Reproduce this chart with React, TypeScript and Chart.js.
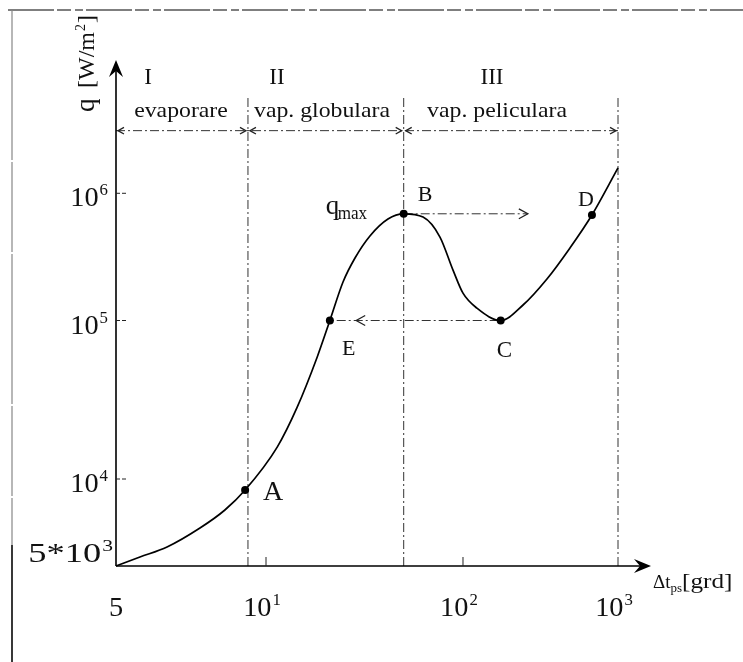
import React, { useEffect, useRef } from 'react';
import { Chart, registerables, LinearScale } from 'chart.js';

const SERIF = '"Liberation Serif", "DejaVu Serif", serif';

// ---------------- data ----------------
const curveDeltaT = [5, 5.585, 6.33, 7.37, 8.27, 9.08, 11.4, 14.4, 18.2, 21.1, 24.6, 28.3, 33.7, 41.6, 50, 62.7, 76.4, 89, 100, 123, 175, 244, 348, 490, 679, 1000];
const curveFlux = [5000, 5373, 5819, 6768, 7813, 9160, 15900, 28400, 58900, 100000, 200800, 310000, 462000, 628000, 690000, 650000, 453000, 249000, 164000, 125000, 100000, 132400, 212000, 372000, 675000, 1560000];
const keyNames = ['A', 'E', 'B', 'C', 'D'];
const keyDeltaT = [9.08, 21.1, 50, 175, 679];
const keyFlux = [9160, 100000, 690000, 100000, 675000];
const xTickValues = [5, 10, 100, 1000];
const xTickBase = ['5', '10', '10', '10'];
const xTickExp = ['', '1', '2', '3'];
const yTickValues = [5000, 10000, 100000, 1000000];
const yTickBase = ['5*10', '10', '10', '10'];
const yTickExp = ['3', '4', '5', '6'];
const regionBounds = [5, 9.2, 50, 1000];
const regionNumerals = ['I', 'II', 'III'];
const regionNames = ['evaporare', 'vap. globulara', 'vap. peliculara'];
const regionArrowFlux = 3.0e6;
const regionLineTopFlux = 5.5e6;
const bdFlux = 690000;
const bdDeltaT = [50, 262];
const ceFlux = 100000;
const ceDeltaT = [170, 21.1];
const ceArrowTip = 28.7;

// -------------- axis warp config (hand-drawn log axes) --------------
const X_BREAKS = [5, 10, 100, 1000, 1600];
const X_BREAK_AT = [0, 0.2809, 0.6498, 0.9401, 1];
const Y_BREAKS = [5000, 1e4, 1e5, 1e6, 1e7];
const Y_BREAK_AT = [0, 0.1726, 0.4871, 0.7395, 1];

class BreakLogScale extends LinearScale {
  static id = 'breaklog';
  static defaults = {};
  determineDataLimits() {
    const v = (this.options as any).breakValues;
    this.min = v[0];
    this.max = v[v.length - 1];
  }
  buildTicks() {
    return ((this.options as any).tickValues || []).map((value: number) => ({ value }));
  }
  getPixelForValue(value: number) {
    const vals = (this.options as any).breakValues;
    const at = (this.options as any).breakAt;
    const lv = Math.log10(Math.max(value, 1e-12));
    let i = 0;
    while (i < vals.length - 2 && lv > Math.log10(vals[i + 1])) i++;
    const l0 = Math.log10(vals[i]);
    const l1 = Math.log10(vals[i + 1]);
    const dec = at[i] + ((lv - l0) / (l1 - l0)) * (at[i + 1] - at[i]);
    return this.getPixelForDecimal(dec);
  }
  getValueForPixel(pixel: number) {
    const vals = (this.options as any).breakValues;
    const at = (this.options as any).breakAt;
    const dec = this.getDecimalForPixel(pixel);
    let i = 0;
    while (i < at.length - 2 && dec > at[i + 1]) i++;
    const l0 = Math.log10(vals[i]);
    const l1 = Math.log10(vals[i + 1]);
    return Math.pow(10, l0 + ((dec - at[i]) / (at[i + 1] - at[i])) * (l1 - l0));
  }
}

Chart.register(...registerables, BreakLogScale);

function txt(ctx: CanvasRenderingContext2D, s: string, x: number, y: number, size: number, align: CanvasTextAlign = 'left', sx = 1) {
  ctx.save();
  ctx.font = `${size}px ${SERIF}`;
  ctx.textAlign = align;
  ctx.textBaseline = 'alphabetic';
  ctx.translate(x, y);
  ctx.scale(sx, 1);
  ctx.fillText(s, 0, 0);
  ctx.restore();
}

function pow(ctx: CanvasRenderingContext2D, base: string, exp: string, x: number, y: number, size: number, align: 'left' | 'right' | 'center', sx = 1) {
  const es = Math.round(size * 0.6);
  ctx.font = `${size}px ${SERIF}`;
  const wb = ctx.measureText(base).width * sx;
  ctx.font = `${es}px ${SERIF}`;
  const we = exp ? ctx.measureText(exp).width * sx + 1 : 0;
  const total = wb + we;
  let x0 = x;
  if (align === 'right') x0 = x - total;
  if (align === 'center') x0 = x - total / 2;
  txt(ctx, base, x0, y, size, 'left', sx);
  if (exp) txt(ctx, exp, x0 + wb + 1, y - size * 0.4, es, 'left', sx);
}

function chevron(ctx: CanvasRenderingContext2D, tx: number, ty: number, dir: number, size = 7) {
  ctx.save();
  ctx.setLineDash([]);
  ctx.lineWidth = 1.3;
  ctx.strokeStyle = '#222';
  ctx.beginPath();
  ctx.moveTo(tx - dir * size, ty - size * 0.55);
  ctx.lineTo(tx, ty);
  ctx.lineTo(tx - dir * size, ty + size * 0.55);
  ctx.stroke();
  ctx.restore();
}

const decorPlugin = {
  id: 'decor',
  afterDraw(chart: any) {
    const ctx: CanvasRenderingContext2D = chart.ctx;
    const xs = chart.scales.x;
    const ys = chart.scales.y;
    const area = chart.chartArea;
    const X0 = xs.getPixelForValue(xTickValues[0]);
    const Y0 = ys.getPixelForValue(yTickValues[0]);
    ctx.save();
    ctx.fillStyle = '#111';

    // scanned frame border
    ctx.strokeStyle = '#555';
    ctx.lineWidth = 1.4;
    ctx.setLineDash([46, 3, 14, 4, 8, 3]);
    ctx.beginPath();
    ctx.moveTo(8, 10);
    ctx.lineTo(743, 10);
    ctx.stroke();
    ctx.setLineDash([150, 2, 90, 2]);
    ctx.strokeStyle = '#888';
    ctx.lineWidth = 1.2;
    ctx.beginPath();
    ctx.moveTo(12, 10);
    ctx.lineTo(12, 545);
    ctx.stroke();
    ctx.setLineDash([]);
    ctx.strokeStyle = '#222';
    ctx.lineWidth = 1.8;
    ctx.beginPath();
    ctx.moveTo(12, 545);
    ctx.lineTo(12, 662);
    ctx.stroke();

    // axes
    ctx.strokeStyle = '#000';
    ctx.lineWidth = 1.6;
    ctx.beginPath();
    ctx.moveTo(X0, Y0);
    ctx.lineTo(X0, area.top + 8);
    ctx.moveTo(X0, Y0);
    ctx.lineTo(area.right - 8, Y0);
    ctx.stroke();
    // y arrow
    ctx.fillStyle = '#000';
    ctx.beginPath();
    ctx.moveTo(X0, area.top - 2);
    ctx.lineTo(X0 - 7, area.top + 15);
    ctx.lineTo(X0, area.top + 9);
    ctx.lineTo(X0 + 7, area.top + 15);
    ctx.closePath();
    ctx.fill();
    // x arrow
    ctx.beginPath();
    ctx.moveTo(area.right + 1, Y0);
    ctx.lineTo(area.right - 16, Y0 - 7);
    ctx.lineTo(area.right - 10, Y0);
    ctx.lineTo(area.right - 16, Y0 + 7);
    ctx.closePath();
    ctx.fill();

    // ticks
    ctx.lineWidth = 1;
    ctx.strokeStyle = '#222';
    ctx.setLineDash([4, 2]);
    for (let i = 1; i < yTickValues.length; i++) {
      const py = ys.getPixelForValue(yTickValues[i]);
      ctx.beginPath();
      ctx.moveTo(X0, py);
      ctx.lineTo(X0 + 12, py);
      ctx.stroke();
    }
    ctx.setLineDash([]);
    for (let i = 1; i < xTickValues.length - 1; i++) {
      const px = xs.getPixelForValue(xTickValues[i]);
      ctx.beginPath();
      ctx.moveTo(px, Y0);
      ctx.lineTo(px, Y0 - 9);
      ctx.stroke();
    }

    // tick labels
    ctx.fillStyle = '#111';
    for (let i = 0; i < yTickValues.length; i++) {
      const py = ys.getPixelForValue(yTickValues[i]);
      if (i === 0) pow(ctx, yTickBase[i], yTickExp[i], 113, py - 4, 27, 'right', 1.35);
      else pow(ctx, yTickBase[i], yTickExp[i], 108, py + 13, 27, 'right', 1.05);
    }
    for (let i = 0; i < xTickValues.length; i++) {
      const px = xs.getPixelForValue(xTickValues[i]);
      pow(ctx, xTickBase[i], xTickExp[i], i === 0 ? px : px - 4, 616, 27, 'center', 1.05);
    }

    // axis titles
    ctx.save();
    ctx.translate(94, 112);
    ctx.rotate(-Math.PI / 2);
    txt(ctx, 'q', 0, 0, 27);
    txt(ctx, '[W/m', 24, 0, 24);
    ctx.font = `24px ${SERIF}`;
    const wq = ctx.measureText('[W/m').width;
    txt(ctx, '2', 24 + wq + 1, -9, 14);
    txt(ctx, ']', 24 + wq + 9, 0, 24);
    ctx.restore();

    txt(ctx, '\u0394t', 653, 588, 19);
    ctx.font = `19px ${SERIF}`;
    const wd = ctx.measureText('\u0394t').width;
    txt(ctx, 'ps', 653 + wd, 592, 13);
    ctx.font = `13px ${SERIF}`;
    const wp = ctx.measureText('ps').width;
    txt(ctx, '[grd]', 653 + wd + wp, 588, 21, 'left', 1.2);

    // region labels
    const numX = [148, 277, 492];
    const nameX = [181, 322, 497];
    for (let i = 0; i < 3; i++) {
      txt(ctx, regionNumerals[i], numX[i], 84, 23, 'center');
      txt(ctx, regionNames[i], nameX[i], 117, 22, 'center', 1.08);
    }
    // region arrowheads
    const ay = ys.getPixelForValue(regionArrowFlux);
    for (let i = 0; i < 3; i++) {
      const l = xs.getPixelForValue(regionBounds[i]);
      const r = xs.getPixelForValue(regionBounds[i + 1]);
      chevron(ctx, l + 2, ay, -1, 6);
      chevron(ctx, r - 2, ay, 1, 6);
    }
    // transition arrows
    chevron(ctx, xs.getPixelForValue(bdDeltaT[1]), ys.getPixelForValue(bdFlux), 1, 9);
    chevron(ctx, xs.getPixelForValue(ceArrowTip), ys.getPixelForValue(ceFlux), -1, 9);

    // point labels
    ctx.fillStyle = '#111';
    const kp = (i: number) => [xs.getPixelForValue(keyDeltaT[i]), ys.getPixelForValue(keyFlux[i])];
    let p = kp(0);
    txt(ctx, keyNames[0], p[0] + 18, p[1] + 10, 28);
    p = kp(1);
    txt(ctx, keyNames[1], p[0] + 12, p[1] + 34, 22);
    p = kp(2);
    txt(ctx, keyNames[2], p[0] + 14, p[1] - 13, 22);
    txt(ctx, 'q', p[0] - 78, p[1], 27);
    txt(ctx, 'max', p[0] - 66, p[1] + 5, 18, 'left', 0.95);
    p = kp(3);
    txt(ctx, keyNames[3], p[0] - 4, p[1] + 36, 23);
    p = kp(4);
    txt(ctx, keyNames[4], p[0] - 14, p[1] - 9, 22);

    ctx.restore();
  },
};

export default function App() {
  const ref = useRef<HTMLCanvasElement | null>(null);
  useEffect(() => {
    document.body.style.margin = '0';
    const dash = {
      borderColor: '#333',
      borderWidth: 1,
      borderDash: [9, 3, 2, 3],
      pointRadius: 0,
      fill: false,
      tension: 0,
      clip: false,
      order: 2,
    };
    const chart = new Chart(ref.current as HTMLCanvasElement, {
      type: 'line',
      data: {
        datasets: [
          {
            label: 'q',
            data: curveDeltaT.map((x, i) => ({ x, y: curveFlux[i] })),
            borderColor: '#000',
            borderWidth: 1.7,
            cubicInterpolationMode: 'monotone',
            pointRadius: 0,
            fill: false,
            clip: false,
            order: 1,
          },
          {
            label: 'points',
            data: keyDeltaT.map((x, i) => ({ x, y: keyFlux[i] })),
            showLine: false,
            pointRadius: 4,
            pointBackgroundColor: '#000',
            pointBorderColor: '#000',
            pointBorderWidth: 0,
            clip: false,
            order: 0,
          },
          ...regionBounds.slice(1).map((x) => ({
            label: 'bound',
            data: [
              { x, y: yTickValues[0] },
              { x, y: regionLineTopFlux },
            ],
            ...dash,
          })),
          {
            label: 'regions',
            data: [
              { x: regionBounds[0], y: regionArrowFlux },
              { x: regionBounds[regionBounds.length - 1], y: regionArrowFlux },
            ],
            ...dash,
          },
          {
            label: 'B-D',
            data: bdDeltaT.map((x) => ({ x, y: bdFlux })),
            ...dash,
          },
          {
            label: 'C-E',
            data: ceDeltaT.map((x) => ({ x, y: ceFlux })),
            ...dash,
          },
        ],
      },
      options: {
        animation: false,
        responsive: false,
        devicePixelRatio: 1,
        layout: { padding: { left: 116, right: 93, top: 62, bottom: 96 } },
        plugins: { legend: { display: false }, tooltip: { enabled: false } },
        events: [],
        scales: {
          x: {
            type: 'breaklog',
            display: false,
            breakValues: X_BREAKS,
            breakAt: X_BREAK_AT,
            tickValues: xTickValues,
          } as any,
          y: {
            type: 'breaklog',
            display: false,
            breakValues: Y_BREAKS,
            breakAt: Y_BREAK_AT,
            tickValues: yTickValues,
          } as any,
        },
      },
      plugins: [decorPlugin],
    } as any);
    return () => chart.destroy();
  }, []);
  return (
    <div style={{ width: 743, height: 662, background: '#fff' }}>
      <canvas ref={ref} width={743} height={662} style={{ display: 'block' }} />
    </div>
  );
}
